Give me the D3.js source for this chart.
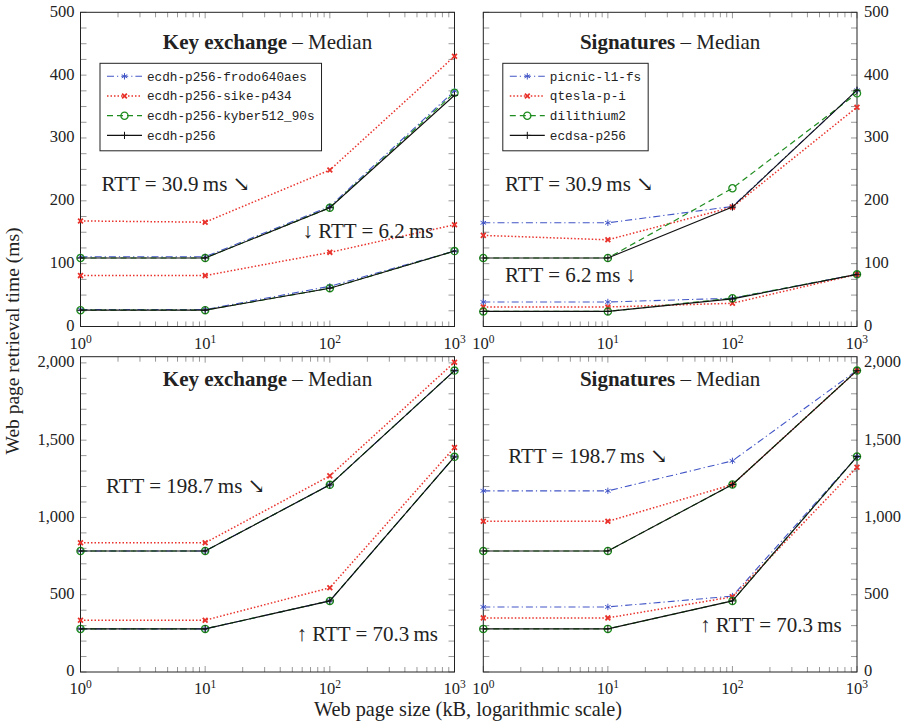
<!DOCTYPE html>
<html>
<head>
<meta charset="utf-8">
<script src="https://cdn.jsdelivr.net/npm/d3@7"></script>
<style>
  body { margin: 0; background: #fff; }
  svg text { font-family: 'Liberation Serif', 'DejaVu Serif', serif; fill: #222; }
  svg text.mono { font-family: 'Liberation Mono', 'DejaVu Sans Mono', monospace; }
</style>
</head>
<body>
<div id="chart"></div>
<script>
// Web page sizes in kB (x axis, log scale)
var sizes = [1, 10, 100, 1000];

// series names
var kexNames = ["ecdh-p256-frodo640aes", "ecdh-p256-sike-p434", "ecdh-p256-kyber512_90s", "ecdh-p256"];
var sigNames = ["picnic-l1-fs", "qtesla-p-i", "dilithium2", "ecdsa-p256"];

// median retrieval times (ms), one row per series in the order of the names
var kexRtt6 = [[27, 27, 64, 120], [81, 81, 118, 162], [26, 26, 61, 120], [26, 26, 61, 120]];
var kexRtt31 = [[111, 111, 191, 375], [168, 166, 249, 430], [109, 109, 189, 372], [109, 109, 189, 368]];
var sigRtt6 = [[39, 39, 45, 83], [31, 31, 37, 83], [24, 24, 45, 83], [24, 24, 44, 83]];
var sigRtt31 = [[165, 165, 191, 376], [145, 138, 190, 349], [109, 109, 220, 371], [109, 109, 190, 376]];
var kexRtt70 = [[279, 279, 460, 1392], [335, 335, 545, 1453], [279, 279, 460, 1392], [279, 279, 460, 1392]];
var kexRtt199 = [[783, 783, 1211, 1950], [836, 836, 1269, 2004], [783, 783, 1211, 1950], [783, 783, 1211, 1950]];
var sigRtt70 = [[421, 421, 491, 1394], [350, 350, 486, 1325], [279, 279, 460, 1394], [279, 279, 460, 1394]];
var sigRtt199 = [[1172, 1172, 1366, 1952], [975, 975, 1213, 1950], [783, 783, 1213, 1950], [783, 783, 1213, 1950]];

// y tick labels
var topTicks = [0, 100, 200, 300, 400, 500];
var bottomTicks = [0, 500, 1000, 1500, 2000];

var colors = ["#4255c6", "#e8322b", "#1f8c1f", "#111"];
var dashes = ["7,3,1.2,3", "1.5,2", "6,4", null];
var widths = [1.1, 1.5, 1.2, 1.1];
var marks = ["asterisk", "x", "o", "plus"];
var serif = "'Liberation Serif', 'DejaVu Serif', serif";

var svg = d3.select("#chart").append("svg")
    .attr("width", 907)
    .attr("height", 725)
    .attr("font-family", serif);

var fmt = d3.format(",");

function drawMark(g, type, cx, cy, color) {
  var m = g.append("g").attr("transform", "translate(" + cx + "," + cy + ")")
    .attr("stroke", color).attr("fill", "none");
  if (type == "asterisk") {
    [90, 30, 150].forEach(function(a) {
      var r = 3.2, t = a * Math.PI / 180;
      m.append("line").attr("x1", -r * Math.cos(t)).attr("y1", -r * Math.sin(t))
        .attr("x2", r * Math.cos(t)).attr("y2", r * Math.sin(t)).attr("stroke-width", 1);
    });
  } else if (type == "x") {
    var r = 2.4;
    m.append("path").attr("d", "M" + -r + "," + -r + "L" + r + "," + r + "M" + -r + "," + r + "L" + r + "," + -r)
      .attr("stroke-width", 1.8);
  } else if (type == "o") {
    m.append("circle").attr("r", 3.6).attr("stroke-width", 1.3);
  } else {
    var r = 3.6;
    m.append("path").attr("d", "M" + -r + ",0H" + r + "M0," + -r + "V" + r).attr("stroke-width", 1);
  }
}

function panel(p) {
  var g = svg.append("g").attr("transform", "translate(" + p.x0 + "," + p.y0 + ")");

  var x = d3.scaleLog().domain([1, 1000]).range([0, p.w]);
  var y = d3.scaleLinear().domain([0, p.ymax]).range([p.h, 0]);

  // minor / major ticks, inward on all four sides
  var xt = [];
  [1, 10, 100].forEach(function(d) { for (var k = 1; k < 10; k++) xt.push(d * k); });
  xt.push(1000);
  xt.forEach(function(v) {
    var len = (Math.log10(v) % 1 == 0) ? 6 : 5;
    g.append("line").attr("x1", x(v)).attr("x2", x(v)).attr("y1", p.h).attr("y2", p.h - len)
      .attr("stroke", "#999");
    g.append("line").attr("x1", x(v)).attr("x2", x(v)).attr("y1", 0).attr("y2", len)
      .attr("stroke", "#999");
  });
  d3.range(0, p.ymax + 0.01, p.minor).forEach(function(v) {
    g.append("line").attr("x1", 0).attr("x2", 6).attr("y1", y(v)).attr("y2", y(v)).attr("stroke", "#999");
    g.append("line").attr("x1", p.w).attr("x2", p.w - 6).attr("y1", y(v)).attr("y2", y(v)).attr("stroke", "#999");
  });

  // x tick labels
  sizes.forEach(function(v, i) {
    var t = g.append("text").attr("x", x(v)).attr("y", p.h + 22.5)
      .attr("text-anchor", "middle").attr("font-family", serif).style("font-size", "16.5px");
    t.append("tspan").text("10");
    t.append("tspan").attr("dy", -6).style("font-size", "11.5px").text(i);
  });

  // y tick labels
  p.ticks.forEach(function(v) {
    g.append("text")
      .attr("x", p.side == "left" ? -6 : p.w + 7)
      .attr("y", y(v) + 4.5)
      .attr("text-anchor", p.side == "left" ? "end" : "start")
      .attr("font-family", serif)
      .style("font-size", "16.5px")
      .text(fmt(v));
  });

  // frame
  g.append("rect").attr("width", p.w).attr("height", p.h)
    .attr("fill", "none").attr("stroke", "#222").attr("stroke-width", 1);

  var line = d3.line()
    .x(function(d, i) { return x(sizes[i]); })
    .y(function(d) { return y(d); });

  p.groups.forEach(function(grp) {
    grp.forEach(function(vals, s) {
      g.append("path").attr("d", line(vals))
        .attr("fill", "none").attr("stroke", colors[s]).attr("stroke-width", widths[s])
        .attr("stroke-dasharray", dashes[s]);
      vals.forEach(function(v, i) { drawMark(g, marks[s], x(sizes[i]), y(v), colors[s]); });
    });
  });

  // title
  var tt = g.append("text").attr("x", p.w / 2).attr("y", p.titleY)
    .attr("text-anchor", "middle").attr("font-family", serif).style("font-size", "21px");
  tt.append("tspan").style("font-weight", "bold").text(p.title);
  tt.append("tspan").text(" \u2013 Median");

  // RTT notes
  p.notes.forEach(function(n) {
    g.append("text").attr("x", n[1]).attr("y", n[2])
      .attr("text-anchor", n[3] || "start")
      .attr("font-family", serif)
      .style("font-size", "21px").text(n[0]);
  });

  // legend
  if (p.names) {
    var lg = g.append("g").attr("transform", "translate(19.5,51)");
    var box = lg.append("rect").attr("height", 87.5)
      .attr("fill", "#fff").attr("stroke", "#222").attr("stroke-width", 1);
    var maxw = 0;
    p.names.forEach(function(nm, s) {
      var ry = 13 + s * 19.7;
      lg.append("line").attr("x1", 7).attr("x2", 42).attr("y1", ry).attr("y2", ry)
        .attr("stroke", colors[s]).attr("stroke-width", widths[s]).attr("stroke-dasharray", dashes[s]);
      drawMark(lg, marks[s], 24.5, ry, colors[s]);
      var t = lg.append("text").attr("class", "mono").attr("x", 47).attr("y", ry + 4.5)
        .attr("font-family", "'Liberation Mono', 'DejaVu Sans Mono', monospace")
        .style("font-size", "12.7px").text(nm);
      maxw = Math.max(maxw, t.node().getComputedTextLength());
    });
    box.attr("width", 47 + maxw + 7);
  }
}

var topH = 326.5 - 12.3, botH = 672 - 356.7;

panel({ x0: 80.5, y0: 12.3, w: 374, h: topH, ymax: 500, minor: 25, ticks: topTicks, side: "left",
  groups: [kexRtt6, kexRtt31], names: kexNames, title: "Key exchange", titleY: 37,
  notes: [["RTT = 30.9\u2009ms \u2198", 21, 179], ["\u2193 RTT = 6.2\u2009ms", 353, 226, "end"]] });

panel({ x0: 483.3, y0: 12.3, w: 373.7, h: topH, ymax: 500, minor: 25, ticks: topTicks, side: "right",
  groups: [sigRtt6, sigRtt31], names: sigNames, title: "Signatures", titleY: 37,
  notes: [["RTT = 30.9\u2009ms \u2198", 21.7, 179], ["RTT = 6.2\u2009ms \u2193", 21.7, 270]] });

panel({ x0: 80.5, y0: 356.7, w: 374, h: botH, ymax: 2040, minor: 100, ticks: bottomTicks, side: "left",
  groups: [kexRtt70, kexRtt199], title: "Key exchange", titleY: 29,
  notes: [["RTT = 198.7\u2009ms \u2198", 25.5, 136], ["\u2191 RTT = 70.3\u2009ms", 357.5, 284, "end"]] });

panel({ x0: 483.3, y0: 356.7, w: 373.7, h: botH, ymax: 2040, minor: 100, ticks: bottomTicks, side: "right",
  groups: [sigRtt70, sigRtt199], title: "Signatures", titleY: 29,
  notes: [["RTT = 198.7\u2009ms \u2198", 25, 106], ["\u2191 RTT = 70.3\u2009ms", 358.4, 275, "end"]] });

// axis titles
svg.append("text").attr("x", 468).attr("y", 716).attr("text-anchor", "middle")
  .attr("font-family", serif)
  .style("font-size", "20.3px").text("Web page size (kB, logarithmic scale)");
svg.append("text").attr("transform", "translate(19,341) rotate(-90)").attr("text-anchor", "middle")
  .attr("font-family", serif)
  .style("font-size", "19.5px").text("Web page retrieval time (ms)");
</script>
</body>
</html>
